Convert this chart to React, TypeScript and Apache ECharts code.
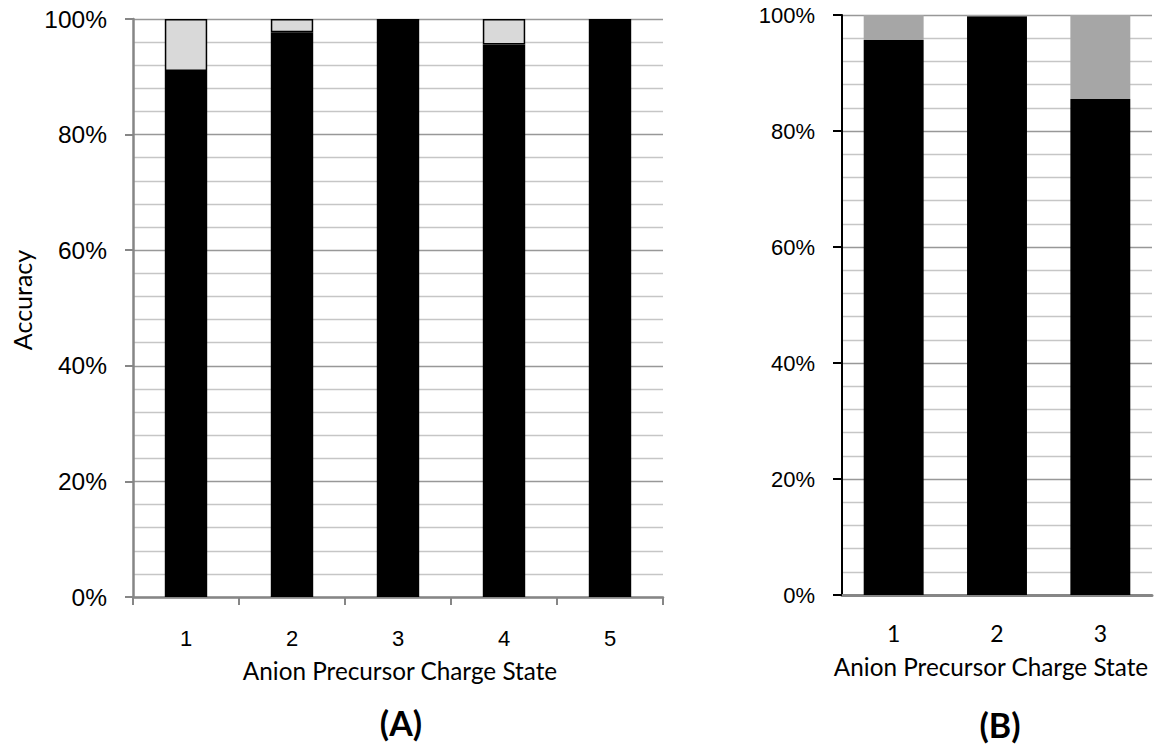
import React, { useEffect, useRef } from "react";
import * as echarts from "echarts";

const catsA = ["1", "2", "3", "4", "5"];
const correctA = [91.0, 97.7, 100, 95.6, 100];
const incorrectA = [9.0, 2.3, 0, 4.4, 0];

const catsB = ["1", "2", "3"];
const correctB = [95.7, 99.8, 85.5];
const incorrectB = [4.3, 0.2, 14.5];

const yTicks = [0, 20, 40, 60, 80, 100];

const xTitle = "Anion Precursor Charge State";
const yTitle = "Accuracy";

export default function App() {
  const ref = useRef<HTMLDivElement>(null);
  useEffect(() => {
    if (!ref.current) return;
    const chart = echarts.init(ref.current, undefined, { renderer: "svg" });
    const majorLine = { show: true, lineStyle: { color: "#989898", width: 1.4 } };
    const minorLine = { show: true, lineStyle: { color: "#c6c6c6", width: 1.4 } };
    const pct = (v: number) => (yTicks.includes(v) ? v + "%" : "");
    chart.setOption({
      animation: false,
      backgroundColor: "#ffffff",
      grid: [
        { left: 133, top: 19, width: 530, height: 578 },
        { left: 842, top: 15, width: 310, height: 580 },
      ],
      xAxis: [
        {
          type: "category",
          gridIndex: 0,
          data: catsA,
          boundaryGap: true,
          axisLine: { show: true, lineStyle: { color: "#868686", width: 2.5 } },
          axisTick: { show: true, length: 8, lineStyle: { color: "#868686", width: 2 } },
          axisLabel: { margin: 30, fontFamily: "Liberation Sans", fontSize: 22, color: "#000" },
          splitLine: { show: false },
        },
        {
          type: "category",
          gridIndex: 1,
          data: catsB,
          boundaryGap: true,
          axisLine: { show: true, lineStyle: { color: "#868686", width: 3 } },
          axisTick: { show: false },
          axisLabel: { margin: 26, fontFamily: "Lato", fontSize: 23, color: "#000" },
          splitLine: { show: false },
        },
      ],
      yAxis: [
        {
          type: "value",
          gridIndex: 0,
          min: 0,
          max: 100,
          interval: 20,
          axisLine: { show: true, lineStyle: { color: "#868686", width: 2.5 } },
          axisTick: { show: true, length: 8, lineStyle: { color: "#868686", width: 2 } },
          axisLabel: { margin: 26, fontFamily: "Liberation Sans", fontSize: 24.5, color: "#000", formatter: pct },
          splitLine: majorLine,
          minorTick: { show: false, splitNumber: 5 },
          minorSplitLine: minorLine,
        },
        {
          type: "value",
          gridIndex: 1,
          min: 0,
          max: 100,
          interval: 20,
          axisLine: { show: true, lineStyle: { color: "#000", width: 2 } },
          axisTick: { show: true, length: 9, lineStyle: { color: "#000", width: 2 } },
          axisLabel: { margin: 27, fontFamily: "Liberation Sans", fontSize: 22, color: "#000", formatter: pct },
          splitLine: majorLine,
          minorTick: { show: false, splitNumber: 5 },
          minorSplitLine: minorLine,
        },
      ],
      series: [
        {
          type: "bar",
          xAxisIndex: 0,
          yAxisIndex: 0,
          stack: "a",
          data: correctA,
          barWidth: "40%",
          itemStyle: { color: "#000000" },
        },
        {
          type: "bar",
          xAxisIndex: 0,
          yAxisIndex: 0,
          stack: "a",
          data: incorrectA.map((v) => (v > 0 ? v : null)),
          barWidth: "40%",
          itemStyle: { color: "#d9d9d9", borderColor: "#000000", borderWidth: 1.5 },
        },
        {
          type: "bar",
          xAxisIndex: 1,
          yAxisIndex: 1,
          stack: "b",
          data: correctB,
          barWidth: "58%",
          itemStyle: { color: "#000000" },
        },
        {
          type: "bar",
          xAxisIndex: 1,
          yAxisIndex: 1,
          stack: "b",
          data: incorrectB,
          barWidth: "58%",
          itemStyle: { color: "#a6a6a6" },
        },
      ],
      graphic: [
        {
          type: "text",
          x: 400,
          y: 670,
          style: { text: xTitle, fontFamily: "Lato", fontSize: 24.3, fill: "#000", align: "center", verticalAlign: "middle" },
        },
        {
          type: "text",
          x: 991,
          y: 666,
          style: { text: xTitle, fontFamily: "Lato", fontSize: 24.3, fill: "#000", align: "center", verticalAlign: "middle" },
        },
        {
          type: "text",
          x: 22,
          y: 300,
          rotation: Math.PI / 2,
          style: { text: yTitle, fontFamily: "Lato", fontSize: 25, fill: "#000", align: "center", verticalAlign: "middle" },
        },
        {
          type: "text",
          x: 401,
          y: 722,
          style: { text: "(A)", fontFamily: "Lato", fontWeight: "bold", fontSize: 34, fill: "#000", align: "center", verticalAlign: "middle" },
        },
        {
          type: "text",
          x: 1000,
          y: 724,
          style: { text: "(B)", fontFamily: "Lato", fontWeight: "bold", fontSize: 34, fill: "#000", align: "center", verticalAlign: "middle" },
        },
      ],
    });
    return () => chart.dispose();
  }, []);
  return (
    <div
      ref={ref}
      style={{ position: "fixed", left: 0, top: 0, width: 1155, height: 748, background: "#fff" }}
    />
  );
}
